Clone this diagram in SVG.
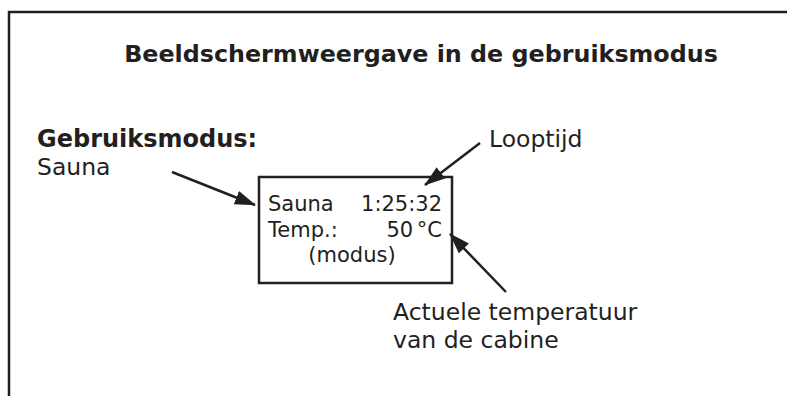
<svg xmlns="http://www.w3.org/2000/svg" width="787" height="396" viewBox="0 0 787 396">
<defs>
<style>
text{font-family:"DejaVu Sans","Verdana",sans-serif;fill:#231f20}
.title{font-size:23.8px;font-weight:bold}
.lbl{font-size:23.5px}
.lblb{font-size:24px;font-weight:bold}
.box{font-size:21px}
.conn{stroke:#231f20;stroke-width:2.5;fill:none;marker-end:url(#ah)}
</style>
<marker id="ah" markerUnits="userSpaceOnUse" markerWidth="22" markerHeight="16" refX="20" refY="8" orient="auto" viewBox="0 0 22 16">
<path d="M0,1 L21,8 L0,15 z" fill="#231f20"/>
</marker>
</defs>
<rect width="787" height="396" fill="#fff"/>
<path d="M9,396 V12 H787" fill="none" stroke="#231f20" stroke-width="2.5"/>
<text class="title" x="421" y="62" text-anchor="middle">Beeldschermweergave in de gebruiksmodus</text>
<g id="mode-label">
<text class="lblb" x="37" y="147">Gebruiksmodus:</text>
<text class="lbl" x="37" y="175">Sauna</text>
</g>
<g id="runtime-label">
<text class="lbl" x="489" y="147">Looptijd</text>
</g>
<g id="temp-label">
<text class="lbl" x="393" y="320">Actuele temperatuur</text>
<text class="lbl" x="393" y="348">van de cabine</text>
</g>
<g id="display">
<rect x="259" y="177" width="193" height="106" fill="none" stroke="#231f20" stroke-width="2.5"/>
<text class="box" x="268" y="211">Sauna</text>
<text class="box" x="442" y="211" text-anchor="end">1:25:32</text>
<text class="box" x="268" y="237">Temp.:</text>
<text class="box" x="442" y="237" text-anchor="end" word-spacing="-3">50 °C</text>
<text class="box" x="352" y="262" text-anchor="middle">(modus)</text>
</g>
<g id="connectors">
<line class="conn" x1="172" y1="172" x2="255" y2="205"/>
<line class="conn" x1="480" y1="143" x2="425" y2="185"/>
<line class="conn" x1="506" y1="292" x2="450" y2="234"/>
</g>
</svg>
